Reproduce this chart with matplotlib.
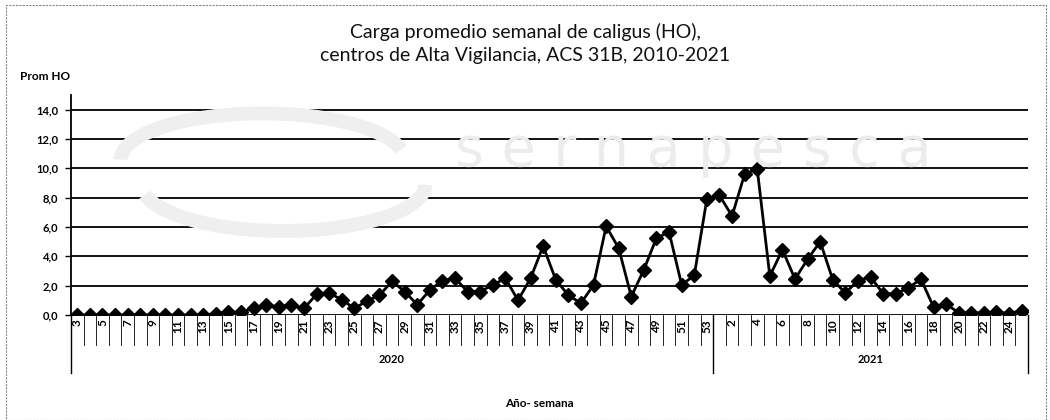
import numpy as np
import matplotlib
matplotlib.use('Agg')
import matplotlib.pyplot as plt
import matplotlib.transforms as mtransforms
from matplotlib.patches import Rectangle, Arc

plt.rcParams['font.family'] = ['Lato', 'DejaVu Sans']

# semanas por año
semanas_2020 = list(range(3, 54))
semanas_2021 = list(range(1, 26))

# carga promedio HO por semana
ho_2020 = [0.0, 0.0, 0.0, 0.0, 0.0, 0.0, 0.0, 0.0, 0.0, 0.0, 0.0,
           0.1, 0.2, 0.2, 0.45, 0.7, 0.55, 0.7, 0.45, 1.4, 1.5,
           1.05, 0.45, 0.95, 1.35, 2.3, 1.6, 0.7, 1.7, 2.35, 2.5,
           1.6, 1.6, 2.05, 2.5, 1.0, 2.5, 4.7, 2.4, 1.35, 0.8,
           2.05, 6.05, 4.55, 1.25, 3.1, 5.25, 5.65, 2.05, 2.7, 7.9]
ho_2021 = [8.15, 6.75, 9.6, 9.95, 2.65, 4.45, 2.45, 3.8, 5.0, 2.4,
           1.5, 2.35, 2.6, 1.45, 1.45, 1.85, 2.45, 0.55, 0.75, 0.15,
           0.15, 0.15, 0.2, 0.1, 0.3]

anios = ['2020', '2021']
y_ticks = [0, 2, 4, 6, 8, 10, 12, 14]

valores = ho_2020 + ho_2021
n = len(valores)
x = np.arange(n)

# etiquetas: impares en 2020, pares en 2021
etiquetas = [str(s) if s % 2 == 1 else '' for s in semanas_2020] + \
            [str(s) if s % 2 == 0 else '' for s in semanas_2021]

fig = plt.figure(figsize=(10.5, 4.2), dpi=100)
ax = fig.add_axes([0.0676, 0.25, 0.9114, 0.524])

# marca de agua (muy tenue)
fig.text(0.66, 0.64, 's e r n a p e s c a', fontsize=40, color='#ececec', ha='center',
         va='center', zorder=0, family=['DejaVu Sans'])
fig.patches.append(Arc((0.25, 0.62), 0.27, 0.22, theta1=10, theta2=180, lw=10,
                       color='#efefef', transform=fig.transFigure, zorder=0))
fig.patches.append(Arc((0.27, 0.56), 0.27, 0.22, theta1=190, theta2=360, lw=10,
                       color='#efefef', transform=fig.transFigure, zorder=0))

for yv in y_ticks:
    ax.axhline(yv, color='black', lw=1.3, zorder=1)

ax.plot(x, valores, color='black', lw=2, marker='D', markersize=7, zorder=3)

ax.set_xlim(-0.5, n - 0.5)
ax.set_ylim(0, 15)
ax.set_yticks(y_ticks)
ax.set_yticklabels([f'{v:.1f}'.replace('.', ',') for v in y_ticks],
                   fontsize=8, fontweight='bold')
ax.tick_params(axis='y', length=4, width=1, pad=5)
ax.set_xticks(x)
ax.set_xticklabels(etiquetas, rotation=90, fontsize=8.5, fontweight='bold')
ax.tick_params(axis='x', length=0, pad=3)
ax.patch.set_alpha(0)

for s in ['top', 'right', 'bottom']:
    ax.spines[s].set_visible(False)
ax.spines['left'].set_linewidth(1.3)

# lineas de categorias bajo el eje
trans = mtransforms.blended_transform_factory(ax.transData, ax.transAxes)
for b in np.arange(-0.5, n, 1.0):
    ax.plot([b, b], [0, -0.136], color='black', lw=0.6, transform=trans, clip_on=False)
n20 = len(semanas_2020)
for b in [-0.5, n20 - 0.5, n - 0.5]:
    ax.plot([b, b], [0, -0.264], color='black', lw=1, transform=trans, clip_on=False)
ax.text((n20 - 1) / 2, -0.20, anios[0], transform=trans, ha='center', va='center',
        fontsize=8, fontweight='bold')
ax.text(n20 + (len(semanas_2021) - 1) / 2, -0.20, anios[1], transform=trans,
        ha='center', va='center', fontsize=8, fontweight='bold')

fig.text(0.5, 0.897, 'Carga promedio semanal de caligus (HO),\ncentros de Alta Vigilancia, ACS 31B, 2010-2021',
         ha='center', va='center', fontsize=14, linespacing=1.45, color='#111111')
fig.text(0.019, 0.818, 'Prom HO', fontsize=8.5, fontweight='bold', va='center')
fig.text(0.514, 0.04, 'Año- semana', fontsize=8.5, fontweight='bold', ha='center', va='center')

# borde de la figura
fig.patches.append(Rectangle((0.006, 0.0), 0.99, 0.988, transform=fig.transFigure,
                             fill=False, edgecolor='#888888', lw=0.8, ls=(0, (2, 1))))

fig.savefig('out.png', dpi=100)
